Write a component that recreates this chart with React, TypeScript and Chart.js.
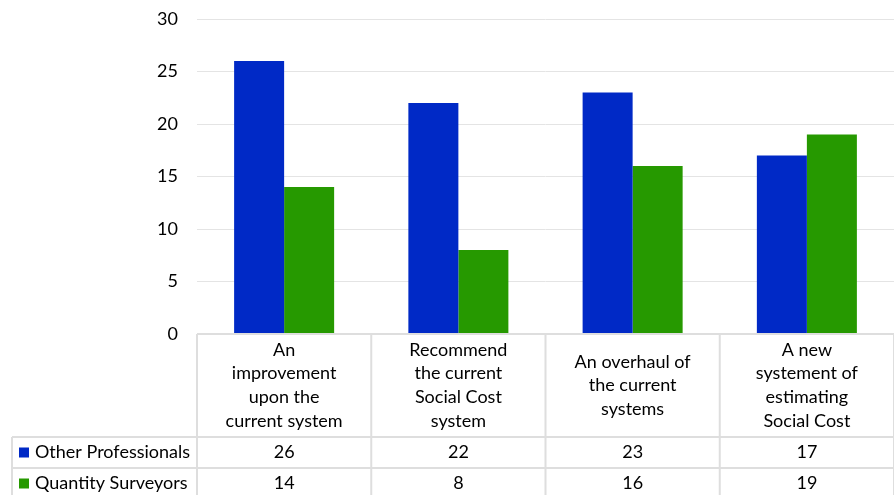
import React, { useEffect, useRef } from "react";
import { Chart, registerables } from "chart.js";

Chart.register(...registerables);

const categories: string[][] = [
  ["An", "improvement", "upon the", "current system"],
  ["Recommend", "the current", "Social Cost", "system"],
  ["An overhaul of", "the current", "systems"],
  ["A new", "systement of", "estimating", "Social Cost"],
];
const seriesNames = ["Other Professionals", "Quantity Surveyors"];
const otherProfessionals = [26, 22, 23, 17];
const quantitySurveyors = [14, 8, 16, 19];
const seriesColors = ["#0029C6", "#269900"];
const yTicks = [0, 5, 10, 15, 20, 25, 30];

const FONT = "Lato, 'DejaVu Sans', sans-serif";
const FONT_SIZE = 18;
const TEXT = "#000000";

const tablePlugin = {
  id: "dataTable",
  afterDraw(chart: any) {
    const ctx = chart.ctx as CanvasRenderingContext2D;
    const x = chart.scales.x;
    const area = chart.chartArea;
    const n = categories.length;
    const colW = (area.right - area.left) / n;
    const top = area.bottom;
    const headerBottom = top + 103;
    const rowH = 31;
    const row1Bottom = headerBottom + rowH;
    const row2Bottom = row1Bottom + rowH;
    const legendLeft = 12;
    ctx.save();
    ctx.strokeStyle = "#dedede";
    ctx.lineWidth = 2;
    ctx.beginPath();
    ctx.moveTo(area.left, top);
    ctx.lineTo(area.right, top);
    [headerBottom, row1Bottom, row2Bottom].forEach((yy) => {
      ctx.moveTo(legendLeft, yy);
      ctx.lineTo(area.right, yy);
    });
    ctx.moveTo(legendLeft, headerBottom);
    ctx.lineTo(legendLeft, row2Bottom);
    for (let i = 0; i <= n; i++) {
      const xx = area.left + i * colW;
      ctx.moveTo(xx, top);
      ctx.lineTo(xx, row2Bottom);
    }
    ctx.stroke();

    ctx.fillStyle = TEXT;
    ctx.font = `${FONT_SIZE}px ${FONT}`;
    ctx.textAlign = "center";
    ctx.textBaseline = "middle";
    const lineH = 23.7;
    const headerMid = (top + headerBottom) / 2;
    categories.forEach((lines, i) => {
      const cx = x.getPixelForValue(i);
      const startY = headerMid - ((lines.length - 1) * lineH) / 2;
      lines.forEach((ln, j) => ctx.fillText(ln, cx, startY + j * lineH));
    });
    const rows = [otherProfessionals, quantitySurveyors];
    const rowMids = [(headerBottom + row1Bottom) / 2, (row1Bottom + row2Bottom) / 2];
    rows.forEach((vals, r) => {
      vals.forEach((v, i) => {
        ctx.fillText(String(v), x.getPixelForValue(i), rowMids[r]);
      });
      ctx.fillStyle = seriesColors[r];
      ctx.fillRect(19, rowMids[r] - 5, 10, 10);
      ctx.fillStyle = TEXT;
      ctx.textAlign = "left";
      ctx.fillText(seriesNames[r], 35, rowMids[r]);
      ctx.textAlign = "center";
    });
    ctx.restore();
  },
};

export default function App() {
  const ref = useRef<HTMLCanvasElement>(null);
  useEffect(() => {
    if (!ref.current) return;
    const chart = new Chart(ref.current, {
      type: "bar",
      data: {
        labels: categories,
        datasets: [
          {
            label: seriesNames[0],
            data: otherProfessionals,
            backgroundColor: seriesColors[0],
            borderWidth: 0,
            categoryPercentage: 0.574,
            barPercentage: 1,
          },
          {
            label: seriesNames[1],
            data: quantitySurveyors,
            backgroundColor: seriesColors[1],
            borderWidth: 0,
            categoryPercentage: 0.574,
            barPercentage: 1,
          },
        ],
      },
      options: {
        responsive: false,
        animation: false,
        layout: { padding: { top: 19, left: 0, right: 0, bottom: 0 } },
        plugins: { legend: { display: false }, tooltip: { enabled: false } },
        scales: {
          x: {
            ticks: { display: false },
            grid: { display: false },
            border: { display: false },
            afterFit: (s: any) => {
              s.height = 161;
              s.paddingLeft = 0;
              s.paddingRight = 0;
            },
          },
          y: {
            min: 0,
            max: 30,
            afterBuildTicks: (s: any) => {
              s.ticks = yTicks.map((v) => ({ value: v }));
            },
            ticks: {
              padding: 19,
              color: TEXT,
              font: { family: FONT, size: FONT_SIZE },
            },
            grid: { color: "#e4e4e4", lineWidth: 1, drawTicks: false },
            border: { display: false },
            afterFit: (s: any) => {
              s.width = 197;
              s.paddingTop = 0;
              s.paddingBottom = 0;
            },
          },
        },
      },
      plugins: [tablePlugin],
    });
    return () => chart.destroy();
  }, []);
  return (
    <div style={{ position: "fixed", left: 0, top: 0, width: 894, height: 495, background: "#fff" }}>
      <canvas ref={ref} width={894} height={495} style={{ display: "block" }} />
    </div>
  );
}
